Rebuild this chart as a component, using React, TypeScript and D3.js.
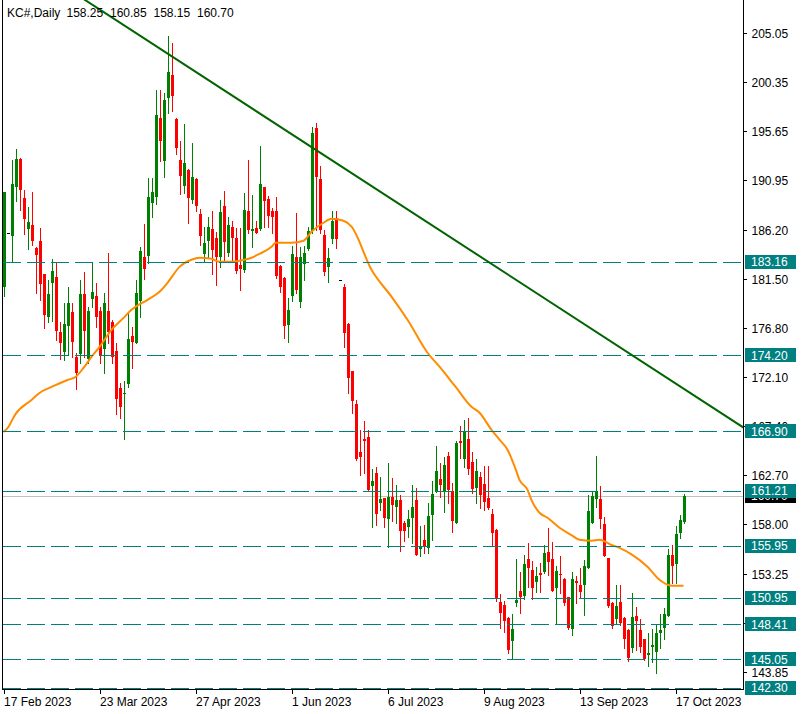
import React from "react";
import * as d3 from "d3";

// ---- Data ----
const symbolName = "KC#,Daily";

const opens = [
  180.76, 185.87, 185.65, 190.35, 193.0, 189.26, 186.32, 186.67, 184.5, 185.14,
  181.94, 177.88, 181.14, 181.69, 176.41, 174.53, 177.02, 178.33, 173.99, 174.34,
  180.09, 173.83, 179.61, 179.87, 178.43, 174.82, 178.43, 177.37, 174.59, 171.08,
  170.44, 171.43, 176.03, 175.33, 179.42, 183.64, 183.73, 188.81, 189.4, 196.9,
  192.84, 198.88, 201.06, 196.84, 192.91, 190.45, 191.95, 189.07, 191.09, 187.76,
  183.9, 185.17, 186.29, 185.4, 183.64, 188.53, 183.96, 186.45, 185.4, 182.84,
  182.36, 188.02, 186.13, 186.39, 186.32, 190.32, 189.14, 187.99, 188.02, 182.75,
  181.62, 177.09, 179.9, 183.61, 179.26, 182.9, 184.41, 186.13, 195.97, 191.09,
  185.72, 182.62, 185.37, 187.35, 181.4, 180.7, 177.18, 172.68, 169.51, 164.94,
  166.16, 166.38, 161.65, 162.9, 160.0, 160.5, 158.46, 160.57, 159.67, 160.34,
  158.11, 157.75, 158.62, 160.34, 155.61, 156.48, 155.74, 158.87, 161.11, 162.36,
  161.14, 164.53, 161.17, 158.14, 165.94, 164.24, 166.16, 163.92, 161.43, 162.48,
  161.84, 160.54, 158.97, 157.44, 150.57, 150.25, 149.0, 146.83, 150.47, 151.59,
  151.14, 154.66, 153.6, 152.48, 153.35, 153.41, 155.33, 154.66, 151.91, 153.25,
  152.74, 150.98, 147.98, 152.55, 152.2, 152.2, 153.83, 158.14, 160.38, 160.38,
  158.01, 154.75, 150.47, 148.94, 150.53, 149.0, 147.85, 146.09, 149.19, 147.85,
  146.99, 145.45, 146.25, 145.71, 147.6, 148.01, 149.22, 155.04, 154.15, 157.12,
  158.25,
];
const highs = [
  189.87, 185.87, 192.9, 193.96, 193.1, 190.03, 188.43, 189.87, 184.6, 186.38,
  181.98, 181.4, 183.41, 183.0, 177.34, 179.16, 180.76, 179.16, 174.37, 181.4,
  182.13, 178.84, 183.09, 181.08, 178.84, 180.12, 183.99, 177.57, 175.33, 171.49,
  171.75, 178.3, 176.93, 181.4, 184.6, 186.77, 191.21, 191.21, 199.62, 199.62,
  199.3, 204.79, 204.09, 196.9, 194.73, 196.33, 192.01, 194.5, 191.15, 188.21,
  186.52, 187.41, 188.02, 186.04, 189.07, 189.93, 187.47, 187.09, 186.42, 186.42,
  189.71, 192.91, 189.55, 187.06, 194.28, 190.35, 189.49, 188.34, 189.39, 182.8,
  181.7, 179.64, 184.66, 187.79, 184.6, 184.69, 186.52, 196.04, 196.42, 192.36,
  186.2, 184.44, 188.02, 188.02, 181.4, 181.0, 177.3, 172.7, 169.9, 167.02,
  167.88, 167.02, 163.28, 163.44, 162.55, 160.53, 163.89, 162.42, 161.75, 160.76,
  158.33, 159.35, 161.75, 161.43, 157.82, 157.91, 159.99, 162.1, 165.49, 163.89,
  164.4, 164.94, 161.91, 166.0, 167.44, 167.98, 168.14, 164.94, 164.27, 162.96,
  163.57, 163.6, 159.48, 157.5, 151.3, 150.6, 149.05, 149.38, 154.66, 153.44,
  155.04, 156.16, 154.5, 153.92, 154.24, 155.97, 157.6, 156.32, 154.02, 154.94,
  152.8, 151.0, 153.44, 153.06, 153.76, 154.56, 160.79, 161.11, 164.56, 161.65,
  158.65, 154.8, 150.5, 152.16, 152.16, 149.05, 147.9, 151.43, 150.09, 148.91,
  147.0, 147.53, 147.91, 148.43, 149.35, 149.93, 155.58, 156.0, 157.82, 158.87,
  160.85,
];
const lows = [
  179.9, 185.87, 183.09, 189.01, 188.11, 185.78, 184.34, 184.76, 180.19, 179.48,
  176.77, 177.41, 177.47, 175.65, 173.83, 173.73, 174.18, 174.05, 170.98, 173.41,
  174.05, 173.41, 178.84, 176.93, 173.41, 172.52, 175.33, 173.41, 168.52, 168.14,
  166.13, 171.17, 173.0, 175.33, 177.88, 181.53, 183.0, 187.47, 188.7, 192.84,
  191.31, 197.38, 197.64, 193.45, 189.62, 189.71, 186.9, 188.82, 188.0, 184.76,
  183.26, 183.64, 181.98, 180.92, 182.68, 183.32, 183.7, 183.32, 182.1, 180.44,
  182.2, 185.88, 184.6, 185.88, 186.2, 186.52, 186.52, 185.88, 181.56, 180.22,
  175.87, 175.49, 179.42, 180.13, 178.85, 181.4, 184.28, 185.9, 186.2, 185.88,
  181.88, 181.18, 184.92, 184.44, 181.4, 174.95, 170.54, 168.62, 164.14, 162.71,
  162.93, 161.2, 157.69, 157.91, 159.35, 157.75, 155.77, 158.33, 158.07, 155.45,
  156.41, 156.8, 156.22, 155.0, 154.97, 155.2, 155.2, 156.48, 161.05, 160.63,
  159.19, 159.99, 157.27, 158.07, 164.3, 163.51, 162.8, 160.95, 159.99, 159.51,
  159.35, 159.45, 156.0, 150.63, 148.01, 147.69, 145.68, 145.07, 150.15, 149.51,
  150.82, 152.0, 150.79, 151.49, 151.49, 153.28, 153.12, 151.55, 148.55, 151.37,
  150.25, 147.95, 147.34, 150.41, 150.98, 149.26, 153.8, 158.1, 159.67, 157.6,
  154.9, 150.02, 148.07, 148.49, 148.3, 146.09, 144.91, 145.77, 145.93, 145.77,
  145.0, 144.43, 144.81, 143.7, 146.09, 146.96, 149.15, 152.39, 152.39, 156.64,
  158.15,
];
const closes = [
  189.87, 185.87, 190.6, 193.0, 190.03, 187.25, 186.96, 185.17, 183.8, 181.05,
  178.08, 180.06, 182.26, 176.51, 175.39, 177.18, 179.19, 175.42, 172.45, 180.06,
  176.54, 178.43, 180.25, 177.88, 174.21, 179.23, 176.41, 174.05, 169.96, 169.26,
  170.53, 175.74, 175.46, 180.15, 184.18, 182.49, 189.36, 189.87, 197.22, 194.76,
  198.66, 201.34, 199.07, 194.09, 191.41, 192.65, 189.23, 191.31, 188.53, 185.62,
  184.92, 186.49, 184.28, 183.64, 187.92, 185.08, 186.64, 185.43, 182.3, 182.46,
  188.11, 186.2, 186.29, 185.91, 190.61, 188.98, 187.57, 187.47, 181.79, 180.76,
  176.99, 178.52, 183.9, 180.44, 183.58, 184.02, 186.07, 195.5, 191.31, 186.2,
  182.2, 183.55, 187.06, 185.3, 181.4, 176.29, 171.97, 169.83, 164.24, 164.46,
  166.0, 161.27, 162.16, 158.94, 160.41, 158.55, 160.57, 159.8, 160.31, 157.37,
  157.37, 158.49, 159.67, 155.04, 155.9, 155.77, 158.78, 160.89, 163.06, 161.75,
  163.67, 161.27, 158.33, 165.74, 165.74, 166.86, 163.28, 161.36, 163.09, 160.79,
  160.15, 159.51, 157.18, 150.79, 149.51, 148.71, 145.93, 147.95, 150.73, 151.05,
  154.18, 153.83, 151.91, 153.03, 153.16, 155.2, 154.4, 151.62, 153.47, 153.16,
  150.41, 148.01, 152.74, 152.39, 151.53, 153.99, 159.26, 160.66, 161.18, 158.52,
  154.98, 150.18, 148.27, 150.18, 148.55, 147.02, 145.2, 149.06, 148.74, 146.19,
  145.07, 145.65, 146.41, 147.56, 147.85, 149.35, 155.04, 154.02, 157.05, 158.39,
  160.7,
];

// moving average samples (bar index, value)
const maIdx = [
  0, 1, 3, 7, 9, 12, 16, 18, 20, 22, 24, 27, 30, 32, 36, 39, 41, 44, 47, 49, 52, 54,
  57, 59, 62, 64, 67, 68, 72, 75, 77, 80, 82, 85, 87, 92, 97, 101, 106, 109, 113,
  117, 119, 122, 124, 126, 128, 129, 131, 132, 134, 136, 139, 142, 144, 147, 149,
  152, 154, 157, 161, 164, 167, 170,
];
const maVal = [
  166.83, 167.2, 168.55, 169.9, 170.57, 171.15, 171.82, 172.11, 172.97, 174.03,
  174.99, 176.62, 177.77, 178.54, 179.5, 180.27, 181.13, 182.66, 183.34, 183.53,
  183.43, 183.14, 183.14, 183.24, 183.53, 183.91, 184.58, 184.97, 184.97, 185.16,
  186.03, 186.89, 187.27, 187.08, 186.51, 182.38, 179.8, 177.59, 174.43, 173.09,
  171.17, 169.25, 168.68, 167.04, 166.09, 165.13, 163.3, 162.25, 161.29, 160.3,
  159.09, 158.61, 157.65, 156.95, 156.5, 156.41, 156.5, 156.0, 155.73, 155.1,
  153.91, 152.66, 152.09, 152.09,
];

// trend line anchors (bar index, price)
const trendIdx = [20, 186];
const trendVal = [208.34, 167.01];

// horizontal levels
const levels = [183.16, 174.2, 166.9, 161.21, 155.95, 150.95, 148.41, 145.05, 142.3];

// axis ticks
const priceTicks = [
  205.05, 200.35, 195.65, 190.95, 186.2, 181.5, 176.8, 172.1, 167.4, 162.7, 158.0,
  153.25, 148.55, 143.85,
];
const dateTickIdx = [0, 24, 48, 72, 96, 120, 144, 168];
const dateTickLabels = [
  "17 Feb 2023", "23 Mar 2023", "27 Apr 2023", "1 Jun 2023",
  "6 Jul 2023", "9 Aug 2023", "13 Sep 2023", "17 Oct 2023",
];

// ---- Layout ----
const W = 801;
const H = 714;
const plotL = 3;
const plotR = 743;
const plotB = 689;
const FONT = "'Liberation Sans', Arial, sans-serif";

const TEAL = "#008080";
const UP = "#008000";
const DOWN = "#ff0000";

export default function App() {
  const x = d3.scaleLinear().domain([0, 1]).range([3.5, 7.5]);
  const y = d3.scaleLinear().domain([142.3, 205.05]).range([687.9, 33.3]);

  const candles = opens.map((o, i) => ({ i, o, h: highs[i], l: lows[i], c: closes[i] }));

  const maLine = d3
    .line<number>()
    .x((_, k) => x(maIdx[k]))
    .y((v) => y(v))
    .curve(d3.curveMonotoneX)(maVal) as string;

  const trendPath = d3
    .line<number>()
    .x((_, k) => x(trendIdx[k]))
    .y((v) => y(v))(trendVal) as string;

  const last = candles[candles.length - 1];
  const bidY = Math.round(y(last.c)) + 0.5;

  const labelBox = (val: number, fill: string, key: string) => {
    const cy = y(val);
    return (
      <g key={key}>
        <rect x={745} y={Math.round(cy - 7)} width={51} height={14} fill={fill} />
        <text x={751} y={cy + 4.5} fill="#ffffff" fontSize={12} fontFamily={FONT}>
          {val.toFixed(2)}
        </text>
      </g>
    );
  };

  return (
    <svg
      width={W}
      height={H}
      style={{ position: "absolute", left: 0, top: 0, display: "block", background: "#fff" }}
    >
      <defs>
        <clipPath id="plotClip">
          <rect x={plotL} y={0} width={plotR - plotL} height={plotB} />
        </clipPath>
      </defs>
      <rect x={0} y={0} width={W} height={H} fill="#ffffff" />

      <g clipPath="url(#plotClip)">
        {/* bid line */}
        <line x1={plotL} x2={plotR} y1={bidY} y2={bidY} stroke="#c0c0c0" strokeWidth={1} />

        {/* candles */}
        {candles.map((d) => {
          const cx = Math.round(x(d.i)) + 0.5;
          const color = d.c > d.o ? UP : d.c < d.o ? DOWN : "#000000";
          const top = Math.round(y(Math.max(d.o, d.c)));
          const bot = Math.round(y(Math.min(d.o, d.c)));
          const hy = Math.round(y(d.h));
          const ly = Math.round(y(d.l));
          return (
            <g key={d.i}>
              {ly > hy && (
                <line x1={cx} x2={cx} y1={hy} y2={ly + 1} stroke={color} strokeWidth={1} />
              )}
              <rect x={cx - 1.5} y={top} width={3} height={Math.max(1, bot - top)} fill={color} />
            </g>
          );
        })}

        {/* moving average */}
        <path d={maLine} fill="none" stroke="#ff8c00" strokeWidth={2} />

        {/* horizontal levels */}
        {levels.map((lv) => {
          const ly = Math.round(y(lv)) + 0.5;
          return (
            <line
              key={lv}
              x1={plotL}
              x2={plotR}
              y1={ly}
              y2={ly}
              stroke={TEAL}
              strokeWidth={1}
              strokeDasharray="18,6"
            />
          );
        })}

        {/* trend line */}
        <path d={trendPath} fill="none" stroke="#006400" strokeWidth={2} />
      </g>

      {/* frame */}
      <line x1={2.5} x2={2.5} y1={0} y2={plotB + 1} stroke="#000" strokeWidth={1} />
      <line x1={2} x2={744} y1={plotB + 0.5} y2={plotB + 0.5} stroke="#000" strokeWidth={1} />
      <line x1={743.5} x2={743.5} y1={0} y2={plotB + 1} stroke="#000" strokeWidth={1} />

      {/* price axis ticks */}
      {priceTicks.map((t) => {
        const ty = Math.round(y(t)) + 0.5;
        return (
          <g key={t}>
            <line x1={744} x2={747} y1={ty} y2={ty} stroke="#000" strokeWidth={1} />
            <text x={751.5} y={ty + 4.5} fontSize={12} fontFamily={FONT} fill="#000">
              {t.toFixed(2)}
            </text>
          </g>
        );
      })}

      {/* bid label (under the level labels) */}
      {labelBox(last.c, "#000000", "bid")}
      {levels.map((lv) => labelBox(lv, TEAL, "lv" + lv))}

      {/* date axis */}
      {dateTickIdx.map((idx, k) => {
        const tx = Math.round(x(idx)) + 0.5;
        return (
          <g key={idx}>
            <line x1={tx} x2={tx} y1={plotB + 1} y2={plotB + 5} stroke="#000" strokeWidth={1} />
            <text x={tx - 0.5} y={706} fontSize={12} fontFamily={FONT} fill="#000">
              {dateTickLabels[k]}
            </text>
          </g>
        );
      })}

      {/* title */}
      <text y={17} fontSize={12} fontFamily={FONT} fill="#000">
        <tspan x={7}>{symbolName}</tspan>
        <tspan x={66.5}>{last.o.toFixed(2)}</tspan>
        <tspan x={110}>{last.h.toFixed(2)}</tspan>
        <tspan x={153.5}>{last.l.toFixed(2)}</tspan>
        <tspan x={197}>{last.c.toFixed(2)}</tspan>
      </text>
    </svg>
  );
}
